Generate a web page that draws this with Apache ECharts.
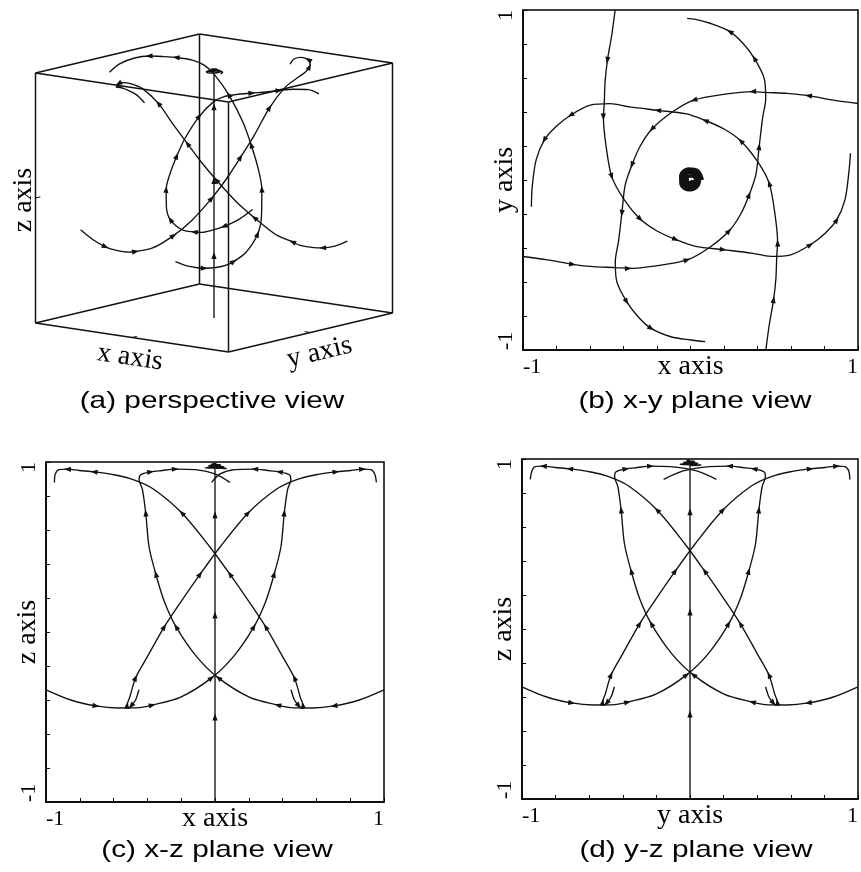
<!DOCTYPE html>
<html>
<head>
<meta charset="utf-8">
<script src="https://cdn.jsdelivr.net/npm/echarts@6/dist/echarts.min.js"></script>
<style>
  html, body { margin: 0; padding: 0; background: #fff; }
  #chart { width: 861px; height: 872px; }
</style>
</head>
<body>
<div id="chart"></div>
<script>
// ---------------------------------------------------------------------------
// State-space trajectories (x, y, z), one row per sample, in travel order.
// Each one enters from a side wall, sweeps round the z axis while climbing,
// and levels off just under the top face.
// ---------------------------------------------------------------------------
const fromLeftWall = [
  [-1.000, -0.450, -0.34], [-0.853, -0.470, -0.40], [-0.704, -0.496, -0.435], [-0.578, -0.510, -0.447],
  [-0.447, -0.515, -0.445], [-0.371, -0.520, -0.43], [-0.206, -0.505, -0.385], [-0.020, -0.470, -0.27],
  [0.109, -0.400, -0.145], [0.230, -0.300, 0.03], [0.300, -0.200, 0.18], [0.350, -0.088, 0.34],
  [0.390, 0.030, 0.50], [0.410, 0.196, 0.70], [0.430, 0.363, 0.84], [0.449, 0.480, 0.895],
  [0.440, 0.598, 0.925], [0.381, 0.716, 0.942], [0.313, 0.804, 0.95], [0.235, 0.873, 0.958],
  [0.117, 0.922, 0.955], [0.030, 0.945, 0.93], [-0.020, 0.951, 0.88]
];
const fromFrontWall = [
  [0.450, -1.000, -0.34], [0.470, -0.853, -0.40], [0.496, -0.704, -0.435], [0.510, -0.578, -0.447],
  [0.515, -0.447, -0.445], [0.520, -0.371, -0.43], [0.505, -0.206, -0.385], [0.470, -0.020, -0.27],
  [0.400, 0.109, -0.145], [0.300, 0.230, 0.03], [0.200, 0.300, 0.18], [0.088, 0.350, 0.34],
  [-0.030, 0.390, 0.50], [-0.196, 0.410, 0.70], [-0.363, 0.430, 0.84], [-0.480, 0.449, 0.895],
  [-0.598, 0.440, 0.925], [-0.716, 0.381, 0.942], [-0.804, 0.313, 0.95], [-0.873, 0.235, 0.958],
  [-0.922, 0.117, 0.955], [-0.945, -0.040, 0.93], [-0.950, -0.157, 0.88]
];
const fromRightWall = [
  [1.000, 0.450, -0.34], [0.853, 0.470, -0.40], [0.704, 0.496, -0.435], [0.578, 0.510, -0.447],
  [0.447, 0.515, -0.445], [0.371, 0.520, -0.43], [0.206, 0.505, -0.385], [0.020, 0.470, -0.27],
  [-0.109, 0.400, -0.145], [-0.230, 0.300, 0.03], [-0.300, 0.200, 0.18], [-0.350, 0.088, 0.34],
  [-0.390, -0.030, 0.50], [-0.410, -0.196, 0.70], [-0.430, -0.363, 0.84], [-0.449, -0.480, 0.895],
  [-0.440, -0.598, 0.925], [-0.381, -0.716, 0.942], [-0.313, -0.804, 0.95], [-0.235, -0.873, 0.958],
  [-0.117, -0.922, 0.955], [0.000, -0.941, 0.93], [0.088, -0.951, 0.88]
];
const fromBackWall = [
  [-0.450, 1.000, -0.34], [-0.470, 0.853, -0.40], [-0.496, 0.704, -0.435], [-0.510, 0.578, -0.447],
  [-0.515, 0.447, -0.445], [-0.520, 0.371, -0.43], [-0.505, 0.206, -0.385], [-0.470, 0.020, -0.27],
  [-0.400, -0.109, -0.145], [-0.300, -0.230, 0.03], [-0.200, -0.300, 0.18], [-0.088, -0.350, 0.34],
  [0.030, -0.390, 0.50], [0.196, -0.410, 0.70], [0.363, -0.430, 0.84], [0.480, -0.449, 0.895],
  [0.598, -0.440, 0.925], [0.716, -0.381, 0.942], [0.804, -0.313, 0.95], [0.873, -0.235, 0.958],
  [0.922, -0.117, 0.955], [0.945, 0.040, 0.93], [0.955, 0.157, 0.88]
];
// samples that carry a direction arrowhead
const trajArrowAt = [2, 5, 7, 9, 11, 13, 17, 19];

// trajectory rising along the z axis, and the tight spiral it settles into
const zAxisPath = [[0, 0, -1], [0, 0, -0.5], [0, 0, 0.1], [0, 0, 0.69], [0, 0, 0.962]];
const zAxisArrowAt = [1, 2, 3];
const apexSpiral = [
  [0.070, 0.000, 0.962], [0.043, 0.054, 0.963], [-0.015, 0.064, 0.965], [-0.057, 0.028, 0.966],
  [-0.055, -0.027, 0.968], [-0.014, -0.057, 0.969], [0.034, -0.043, 0.971], [0.052, 0.000, 0.972],
  [0.031, 0.038, 0.974], [-0.011, 0.046, 0.975], [-0.039, 0.019, 0.977], [-0.037, -0.018, 0.978],
  [-0.009, -0.037, 0.980], [0.022, -0.028, 0.981], [0.032, 0.000, 0.983], [0.018, 0.022, 0.984],
  [-0.006, 0.026, 0.986], [-0.021, 0.010, 0.987], [-0.019, -0.009, 0.989], [-0.004, -0.017, 0.990],
  [0.009, -0.012, 0.992], [0.012, 0.000, 0.993]
];

// unit cube of the perspective view, with a centre tick on the three labelled edges
const cubeCorners = [[-1, -1, -1], [1, -1, -1], [1, 1, -1], [-1, 1, -1], [-1, -1, 1], [1, -1, 1], [1, 1, 1], [-1, 1, 1]];
const cubeEdges = [[0, 1], [1, 2], [2, 3], [3, 0], [4, 5], [5, 6], [6, 7], [7, 4], [0, 4], [1, 5], [2, 6], [3, 7]];
const cubeTicks = [[[0, -1, -1], [0, -0.94, -1]], [[1, 0, -1], [0.94, 0, -1]], [[-1, -1, 0], [-1, -0.94, 0]]];

const captions = ['(a) perspective view', '(b) x-y plane view', '(c) x-z plane view', '(d) y-z plane view'];

// ---------------------------------------------------------------------------
const INK = '#111';
const SERIF = '"Liberation Serif", "Times New Roman", serif';
const SANS = '"Liberation Sans", Arial, sans-serif';

// orthographic view used for the perspective panel (100 px per unit)
const project = p => [0.965 * p[0] + 0.82 * p[1], -0.145 * p[0] + 0.195 * p[1] + 1.25 * p[2]];
const onXY = p => [p[0], p[1]];
const onXZ = p => [p[0], p[2]];
const onYZ = p => [p[1], p[2]];

const trajectories = [fromLeftWall, fromFrontWall, fromRightWall, fromBackWall];

function curve(points, g, width) {
  return {
    type: 'line', xAxisIndex: g, yAxisIndex: g, data: points, smooth: 0.3,
    symbol: 'none', showSymbol: false, silent: true, animation: false, z: 2,
    lineStyle: { color: INK, width: width || 1.35 }
  };
}

function arrowRows(points, at) {
  return at.map(i => {
    const a = points[i], p = points[Math.max(i - 1, 0)], n = points[Math.min(i + 1, points.length - 1)];
    return [a[0], a[1], p[0], p[1], n[0], n[1]];
  });
}

function arrows(rows, g) {
  return {
    type: 'custom', xAxisIndex: g, yAxisIndex: g, data: rows, silent: true, animation: false, z: 3,
    renderItem(params, api) {
      const a = api.coord([api.value(0), api.value(1)]);
      const p = api.coord([api.value(2), api.value(3)]);
      const n = api.coord([api.value(4), api.value(5)]);
      let dx = n[0] - p[0], dy = n[1] - p[1];
      const L = Math.hypot(dx, dy) || 1; dx /= L; dy /= L;
      const len = 7, hw = 2.6;
      const tip = [a[0] + dx * len * 0.5, a[1] + dy * len * 0.5];
      const bx = a[0] - dx * len * 0.5, by = a[1] - dy * len * 0.5;
      return {
        type: 'polygon',
        shape: { points: [tip, [bx - dy * hw, by + dx * hw], [bx + dy * hw, by - dx * hw]] },
        style: { fill: INK }
      };
    }
  };
}

function segments(rows, g, width) {
  return {
    type: 'custom', xAxisIndex: g, yAxisIndex: g, silent: true, animation: false, z: 1, data: rows,
    renderItem(params, api) {
      const s = api.coord([api.value(0), api.value(1)]);
      const t = api.coord([api.value(2), api.value(3)]);
      return { type: 'line', shape: { x1: s[0], y1: s[1], x2: t[0], y2: t[1] },
        style: { stroke: INK, lineWidth: width } };
    }
  };
}

// edge names of the box, placed at projected edge midpoints
function edgeNames(rows, g) {
  return {
    type: 'custom', xAxisIndex: g, yAxisIndex: g, silent: true, animation: false, z: 4, data: rows,
    renderItem(params, api) {
      const c = api.coord([api.value(0), api.value(1)]);
      const item = rows[params.dataIndex];
      return {
        type: 'text', x: c[0] + item[3], y: c[1] + item[4], rotation: item[2] * Math.PI / 180,
        style: { text: item[5], font: '28px ' + SERIF, fill: '#000',
          align: 'center', verticalAlign: 'middle', textAlign: 'center', textVerticalAlign: 'middle' }
      };
    }
  };
}

const tickText = v => (Math.abs(Math.abs(v) - 1) < 1e-6 ? String(Math.round(v)) : '');

function planeX(g, name) {
  return {
    gridIndex: g, type: 'value', min: -1, max: 1, interval: 0.2,
    name, nameLocation: 'middle', nameGap: 3, nameMoveOverlap: false,
    nameTextStyle: { fontFamily: SERIF, fontSize: 28, color: '#000', verticalAlign: 'top' },
    axisLine: { show: true, onZero: false, lineStyle: { color: '#000', width: 1.5 } },
    axisTick: { show: true, inside: true, length: 4, lineStyle: { color: '#000', width: 1 } },
    axisLabel: { show: true, margin: 6, color: '#000', fontFamily: SERIF, fontSize: 22,
      formatter: tickText, alignMinLabel: 'left', alignMaxLabel: 'right' },
    splitLine: { show: false }
  };
}
function planeY(g, name) {
  return {
    gridIndex: g, type: 'value', min: -1, max: 1, interval: 0.2,
    name, nameLocation: 'middle', nameGap: 4, nameRotate: 90, nameMoveOverlap: false,
    nameTextStyle: { fontFamily: SERIF, fontSize: 28, color: '#000' },
    axisLine: { show: true, onZero: false, lineStyle: { color: '#000', width: 1.5 } },
    axisTick: { show: true, inside: true, length: 4, lineStyle: { color: '#000', width: 1 } },
    axisLabel: { show: true, rotate: 90, margin: 6, color: '#000', fontFamily: SERIF, fontSize: 22,
      formatter: tickText, alignMinLabel: 'left', alignMaxLabel: 'right' },
    splitLine: { show: false }
  };
}

const series = [];

// (a) perspective view: box, centre ticks and edge names ---------------------
series.push(segments(cubeEdges.map(e => project(cubeCorners[e[0]]).concat(project(cubeCorners[e[1]]))), 0, 1.5));
series.push(segments(cubeTicks.map(t => project(t[0]).concat(project(t[1]))), 0, 1));
series.push(edgeNames([
  // projected anchor (u, v), rotation in degrees, pixel offset, text
  project([0, -1, -1]).concat([-8.5, -2, 20, 'x axis']),
  project([1, 0, -1]).concat([13.4, 9, 20, 'y axis']),
  project([-1, -1, 0]).concat([90, -12, 2, 'z axis'])
], 0));

// trajectories in every panel: grid index, placement of a state, spiral stroke
const panels = [[0, project, 1.6], [1, onXY, 3.8], [2, onXZ, 1.6], [3, onYZ, 1.6]];
panels.forEach(([g, place, spiralWidth]) => {
  trajectories.forEach(t => {
    const pts = t.map(place);
    series.push(curve(pts, g));
    series.push(arrows(arrowRows(pts, trajArrowAt), g));
  });
  if (g !== 1) {
    const zp = zAxisPath.map(place);
    series.push(curve(zp, g));
    series.push(arrows(arrowRows(zp, zAxisArrowAt), g));
  }
  series.push(curve(apexSpiral.map(place), g, spiralWidth));
});

const frame = { show: true, borderColor: '#000', borderWidth: 1.5, backgroundColor: 'transparent' };
const captionPos = [[212, 401], [695, 401], [217, 850], [696, 850]];

const chart = echarts.init(document.getElementById('chart'), null, { renderer: 'canvas', width: 861, height: 872 });
chart.setOption({
  backgroundColor: '#fff',
  animation: false,
  grid: [
    { left: 14, top: 23, width: 400, height: 340, show: false },
    Object.assign({ left: 523, top: 10, width: 341, height: 340 }, frame),
    Object.assign({ left: 46, top: 462, width: 338, height: 340 }, frame),
    Object.assign({ left: 522, top: 459, width: 341, height: 340 }, frame)
  ],
  xAxis: [
    { gridIndex: 0, type: 'value', min: -2, max: 2, show: false },
    planeX(1, 'x axis'), planeX(2, 'x axis'), planeX(3, 'y axis')
  ],
  yAxis: [
    { gridIndex: 0, type: 'value', min: -1.7, max: 1.7, show: false },
    planeY(1, 'y axis'), planeY(2, 'z axis'), planeY(3, 'z axis')
  ],
  graphic: captions.map((text, i) => ({
    type: 'text', x: captionPos[i][0], y: captionPos[i][1], scaleX: 1.24, silent: true,
    style: { text, font: '24px ' + SANS, fill: '#000', align: 'center', verticalAlign: 'middle',
      textAlign: 'center', textVerticalAlign: 'middle' }
  })),
  series
});
</script>
</body>
</html>
